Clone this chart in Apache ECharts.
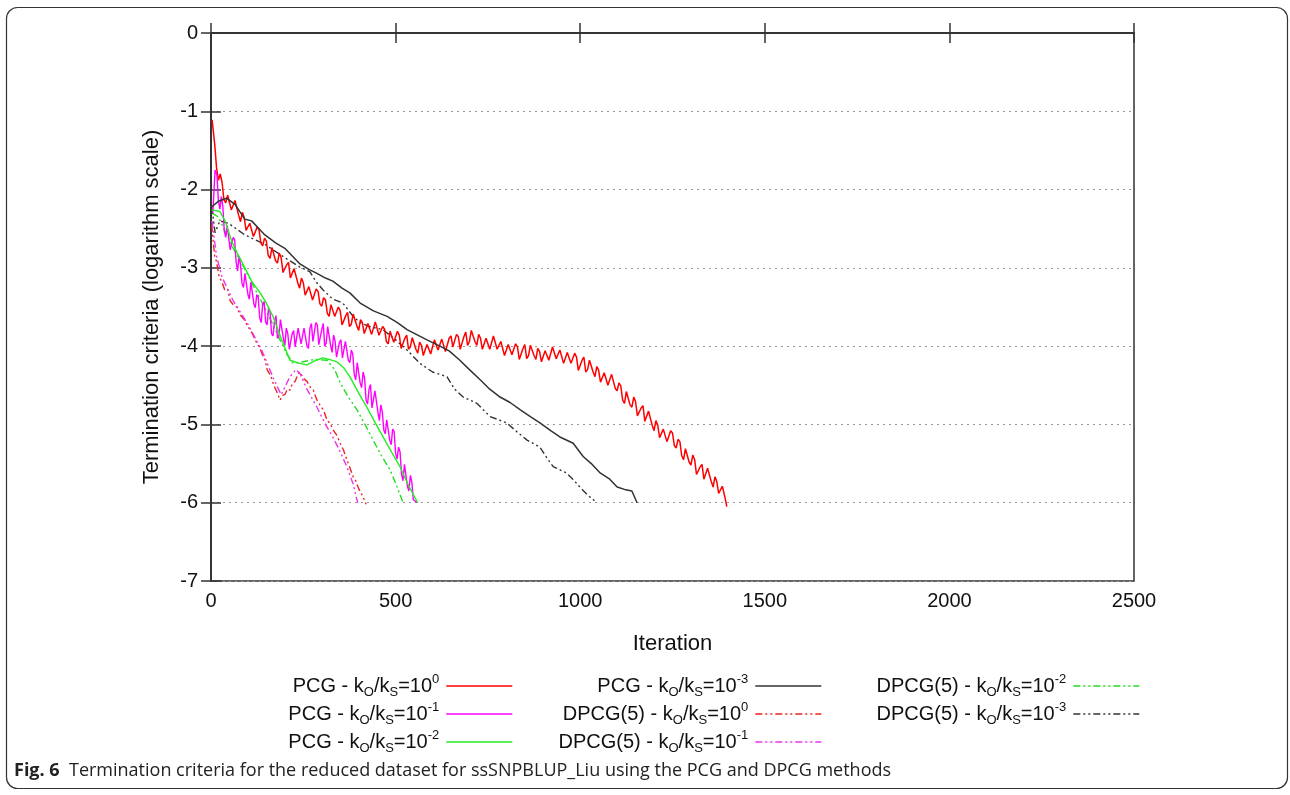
<!DOCTYPE html>
<html>
<head>
<meta charset="utf-8">
<script src="https://cdn.jsdelivr.net/npm/echarts@6/dist/echarts.min.js"></script>
<style>
html,body{margin:0;padding:0;background:#fff;}
#chart{width:1290px;height:795px;}
</style>
</head>
<body>
<div id="chart"></div>
<script>
// ---- data (iteration, log10 termination criterion) ----
const seriesNames = [
  'PCG 1e0', 'PCG 1e-1', 'PCG 1e-2', 'PCG 1e-3',
  'DPCG 1e0', 'DPCG 1e-1', 'DPCG 1e-2', 'DPCG 1e-3'
];
const legendLabels = [
  'PCG - k{sub|O}/k{sub|S}=10{sup|0}',
  'PCG - k{sub|O}/k{sub|S}=10{sup|-1}',
  'PCG - k{sub|O}/k{sub|S}=10{sup|-2}',
  'PCG - k{sub|O}/k{sub|S}=10{sup|-3}',
  'DPCG(5) - k{sub|O}/k{sub|S}=10{sup|0}',
  'DPCG(5) - k{sub|O}/k{sub|S}=10{sup|-1}',
  'DPCG(5) - k{sub|O}/k{sub|S}=10{sup|-2}',
  'DPCG(5) - k{sub|O}/k{sub|S}=10{sup|-3}'
];
const xTicks = [0, 500, 1000, 1500, 2000, 2500];
const yTicks = [-7, -6, -5, -4, -3, -2, -1, 0];

const pcg0 = [[3,-1.11],[10,-1.42],[15,-1.72],[20,-1.88],[25,-1.80],[30,-1.91],[35,-2.13],[40,-2.17],[45,-2.07],[50,-2.05],
[55,-2.26],[60,-2.25],[65,-2.14],[70,-2.16],[75,-2.33],[80,-2.41],[85,-2.29],[90,-2.36],[95,-2.52],[100,-2.54],
[105,-2.43],[110,-2.43],[115,-2.60],[120,-2.62],[125,-2.48],[130,-2.51],[135,-2.68],[140,-2.72],[145,-2.62],[150,-2.66],
[155,-2.84],[160,-2.88],[165,-2.74],[170,-2.74],[175,-2.91],[180,-2.94],[185,-2.81],[190,-2.87],[195,-3.06],[200,-3.07],
[205,-2.96],[210,-2.93],[215,-3.13],[220,-3.12],[225,-3.01],[230,-3.02],[235,-3.19],[240,-3.26],[245,-3.13],[250,-3.19],
[255,-3.35],[260,-3.36],[265,-3.24],[270,-3.24],[275,-3.41],[280,-3.42],[285,-3.27],[290,-3.30],[295,-3.46],[300,-3.49],
[305,-3.38],[310,-3.41],[315,-3.58],[320,-3.62],[325,-3.47],[330,-3.46],[335,-3.62],[340,-3.64],[345,-3.50],[350,-3.55],
[355,-3.73],[360,-3.73],[365,-3.61],[370,-3.57],[375,-3.75],[380,-3.72],[385,-3.59],[390,-3.59],[395,-3.74],[400,-3.80],
[405,-3.66],[410,-3.70],[415,-3.84],[420,-3.84],[425,-3.71],[430,-3.70],[435,-3.85],[440,-3.85],[445,-3.69],[450,-3.71],
[455,-3.86],[460,-3.87],[465,-3.75],[470,-3.78],[475,-3.94],[480,-3.97],[485,-3.81],[490,-3.80],[495,-3.95],[500,-3.96],
[505,-3.81],[510,-3.86],[515,-4.03],[520,-4.03],[525,-3.90],[530,-3.86],[535,-4.04],[540,-4.01],[545,-3.89],[550,-3.89],
[555,-4.04],[560,-4.09],[565,-3.95],[570,-3.99],[575,-4.12],[580,-4.11],[585,-3.98],[590,-3.96],[595,-4.10],[600,-4.09],
[605,-3.92],[610,-3.92],[615,-4.05],[620,-4.05],[625,-3.91],[630,-3.92],[635,-4.07],[640,-4.08],[645,-3.90],[650,-3.87],
[655,-4.01],[660,-4.01],[665,-3.85],[670,-3.88],[675,-4.04],[680,-4.02],[685,-3.88],[690,-3.82],[695,-3.99],[700,-3.94],
[705,-3.80],[710,-3.79],[715,-3.94],[720,-3.99],[725,-3.85],[730,-3.90],[735,-4.04],[740,-4.03],[745,-3.90],[750,-3.89],
[755,-4.04],[760,-4.03],[765,-3.87],[770,-3.89],[775,-4.04],[780,-4.06],[785,-3.94],[790,-3.96],[795,-4.12],[800,-4.14],
[805,-3.98],[810,-3.96],[815,-4.11],[820,-4.12],[825,-3.97],[830,-4.01],[835,-4.17],[840,-4.16],[845,-4.03],[850,-3.98],
[855,-4.16],[860,-4.12],[865,-3.99],[870,-3.98],[875,-4.12],[880,-4.17],[885,-4.03],[890,-4.07],[895,-4.20],[900,-4.19],
[905,-4.06],[910,-4.04],[915,-4.18],[920,-4.17],[925,-4.01],[930,-4.02],[935,-4.16],[940,-4.17],[945,-4.05],[950,-4.07],
[955,-4.22],[960,-4.24],[965,-4.08],[970,-4.07],[975,-4.22],[980,-4.24],[985,-4.09],[990,-4.14],[995,-4.31],[1000,-4.30],
[1005,-4.18],[1010,-4.14],[1015,-4.33],[1020,-4.30],[1025,-4.18],[1030,-4.18],[1035,-4.33],[1040,-4.39],[1045,-4.26],[1050,-4.31],
[1055,-4.46],[1060,-4.46],[1065,-4.34],[1070,-4.34],[1075,-4.50],[1080,-4.51],[1085,-4.36],[1090,-4.38],[1095,-4.54],[1100,-4.57],
[1105,-4.47],[1110,-4.51],[1115,-4.69],[1120,-4.73],[1125,-4.58],[1130,-4.58],[1135,-4.75],[1140,-4.78],[1145,-4.65],[1150,-4.71],
[1155,-4.89],[1160,-4.90],[1165,-4.79],[1170,-4.76],[1175,-4.96],[1180,-4.94],[1185,-4.83],[1190,-4.84],[1195,-5.01],[1200,-5.08],
[1205,-4.95],[1210,-5.01],[1215,-5.17],[1220,-5.18],[1225,-5.06],[1230,-5.06],[1235,-5.22],[1240,-5.23],[1245,-5.08],[1250,-5.11],
[1255,-5.27],[1260,-5.30],[1265,-5.19],[1270,-5.22],[1275,-5.40],[1280,-5.45],[1285,-5.31],[1290,-5.31],[1295,-5.48],[1300,-5.52],
[1305,-5.39],[1310,-5.45],[1315,-5.64],[1320,-5.66],[1325,-5.54],[1330,-5.51],[1335,-5.70],[1340,-5.68],[1345,-5.56],[1350,-5.57],
[1355,-5.73],[1360,-5.80],[1365,-5.67],[1370,-5.73],[1375,-5.88],[1380,-5.89],[1385,-5.79],[1390,-5.81],[1393,-5.95],[1397,-6.05]];

const pcg1 = [[5,-2.30],[11,-1.75],[16,-1.81],[20,-2.14],[24,-2.25],[28,-2.09],[32,-2.21],[36,-2.53],[40,-2.61],[44,-2.46],
[48,-2.44],[52,-2.77],[56,-2.78],[60,-2.61],[64,-2.64],[68,-2.92],[72,-3.04],[76,-2.85],[80,-2.96],[84,-3.20],
[88,-3.25],[92,-3.07],[96,-3.08],[100,-3.34],[104,-3.40],[108,-3.18],[112,-3.19],[116,-3.46],[120,-3.51],[124,-3.34],
[128,-3.38],[132,-3.64],[136,-3.70],[140,-3.46],[144,-3.43],[148,-3.69],[152,-3.73],[156,-3.51],[160,-3.57],[164,-3.84],
[168,-3.87],[172,-3.68],[176,-3.61],[180,-3.90],[184,-3.87],[188,-3.66],[192,-3.65],[196,-3.90],[200,-3.99],[204,-3.77],
[208,-3.84],[212,-4.04],[216,-4.06],[220,-3.84],[224,-3.80],[228,-4.01],[232,-4.02],[236,-3.77],[240,-3.75],[244,-3.97],
[248,-3.98],[252,-3.77],[256,-3.78],[260,-4.00],[264,-4.03],[268,-3.77],[272,-3.71],[276,-3.94],[280,-3.95],[284,-3.70],
[288,-3.73],[292,-3.98],[296,-4.00],[300,-3.79],[304,-3.71],[308,-4.00],[312,-3.96],[316,-3.75],[320,-3.74],[324,-3.99],
[328,-4.08],[332,-3.86],[336,-3.93],[340,-4.14],[344,-4.16],[348,-3.95],[352,-3.92],[356,-4.15],[360,-4.17],[364,-3.94],
[368,-3.93],[372,-4.18],[376,-4.21],[380,-4.05],[384,-4.10],[388,-4.36],[392,-4.43],[396,-4.21],[400,-4.19],[404,-4.47],
[408,-4.53],[412,-4.33],[416,-4.41],[420,-4.69],[424,-4.74],[428,-4.55],[432,-4.49],[436,-4.79],[440,-4.77],[444,-4.57],
[448,-4.58],[452,-4.84],[456,-4.95],[460,-4.75],[464,-4.84],[468,-5.07],[472,-5.12],[476,-4.94],[480,-4.94],[484,-5.20],
[488,-5.26],[492,-5.06],[496,-5.09],[500,-5.37],[504,-5.44],[508,-5.29],[512,-5.35],[516,-5.63],[520,-5.72],[524,-5.51],
[528,-5.50],[532,-5.79],[536,-5.85],[540,-5.65],[544,-5.74],[548,-5.96],[552,-5.98],[558,-6.00]];

const pcg2 = [[2,-2.26],[24,-2.28],[38,-2.40],[56,-2.66],[70,-2.80],[83,-2.92],[110,-3.17],[133,-3.32],[150,-3.45],[160,-3.55],
[168,-3.62],[190,-3.90],[214,-4.18],[240,-4.22],[260,-4.24],[285,-4.18],[303,-4.15],[320,-4.17],[341,-4.20],[360,-4.28],
[376,-4.39],[400,-4.60],[422,-4.78],[445,-4.98],[466,-5.16],[490,-5.36],[512,-5.54],[535,-5.78],[560,-6.00]];

const pcg3 = [[2,-2.22],[20,-2.15],[42,-2.11],[65,-2.19],[92,-2.38],[110,-2.40],[130,-2.50],[146,-2.58],[175,-2.68],[200,-2.75],
[241,-2.95],[265,-3.02],[287,-3.07],[310,-3.13],[330,-3.17],[355,-3.26],[376,-3.32],[404,-3.45],[440,-3.55],[477,-3.62],
[505,-3.70],[531,-3.79],[560,-3.86],[585,-3.92],[620,-4.00],[645,-4.06],[674,-4.18],[700,-4.30],[729,-4.43],[755,-4.55],
[783,-4.65],[810,-4.72],[837,-4.81],[865,-4.90],[891,-4.98],[920,-5.08],[945,-5.16],[981,-5.24],[1008,-5.41],[1030,-5.50],
[1054,-5.62],[1080,-5.70],[1100,-5.80],[1120,-5.83],[1140,-5.85],[1154,-6.00]];

const dpcg0 = [[2,-2.45],[6,-2.66],[10,-2.85],[15,-2.92],[22,-3.12],[29,-3.17],[37,-3.28],[45,-3.27],[52,-3.42],[60,-3.47],
[70,-3.50],[79,-3.60],[90,-3.66],[100,-3.75],[112,-3.84],[124,-3.96],[132,-4.02],[140,-4.12],[146,-4.17],[152,-4.30],
[162,-4.38],[170,-4.50],[178,-4.58],[187,-4.69],[194,-4.63],[200,-4.62],[207,-4.55],[214,-4.56],[221,-4.47],[228,-4.45],
[235,-4.36],[241,-4.33],[250,-4.41],[260,-4.45],[268,-4.52],[277,-4.56],[286,-4.68],[295,-4.75],[305,-4.82],[314,-4.94],
[323,-4.99],[332,-5.08],[341,-5.14],[350,-5.24],[359,-5.33],[368,-5.45],[376,-5.55],[385,-5.67],[392,-5.72],[400,-5.82],
[409,-5.90],[417,-5.98],[420,-6.02]];

const dpcg1 = [[3,-2.40],[8,-2.60],[15,-2.85],[30,-3.12],[60,-3.42],[100,-3.72],[140,-4.08],[170,-4.42],[190,-4.62],[214,-4.39],
[230,-4.30],[241,-4.35],[260,-4.55],[287,-4.78],[310,-5.00],[330,-5.16],[350,-5.35],[368,-5.54],[385,-5.76],[395,-5.96],
[398,-6.00]];

const dpcg2 = [[3,-2.30],[20,-2.35],[40,-2.55],[60,-2.75],[90,-3.00],[120,-3.28],[150,-3.55],[180,-3.85],[205,-4.10],[223,-4.22],
[250,-4.20],[280,-4.17],[314,-4.18],[335,-4.30],[350,-4.47],[372,-4.65],[395,-4.81],[417,-5.00],[439,-5.20],[462,-5.40],
[485,-5.58],[500,-5.75],[517,-5.96],[520,-6.00]];

const dpcg3 = [[2,-2.22],[11,-2.55],[24,-2.40],[47,-2.43],[92,-2.58],[146,-2.70],[200,-2.87],[241,-2.99],[268,-3.05],[285,-3.18],
[303,-3.28],[330,-3.40],[357,-3.45],[385,-3.62],[404,-3.70],[430,-3.75],[466,-3.79],[500,-3.92],[531,-4.05],[566,-4.22],
[600,-4.33],[639,-4.39],[660,-4.55],[683,-4.65],[720,-4.73],[756,-4.90],[801,-4.98],[830,-5.10],[856,-5.20],[891,-5.29],
[910,-5.43],[927,-5.54],[963,-5.62],[980,-5.70],[999,-5.80],[1020,-5.90],[1035,-5.96],[1045,-6.00]];

const seriesData = [pcg0, pcg1, pcg2, pcg3, dpcg0, dpcg1, dpcg2, dpcg3];
const seriesColors = ['#ff0000', '#ff00ff', '#22ee22', '#333333', '#ee2222', '#ee33ee', '#22dd22', '#333333'];
const dashDot = [7, 3, 2, 3, 2, 3];
const seriesDash = ['solid', 'solid', 'solid', 'solid', dashDot, dashDot, dashDot, dashDot];
const seriesWidth = [1.5, 1.4, 1.4, 1.5, 1.4, 1.4, 1.4, 1.4];

// legend layout: [rightOffset, top]
const legendPos = [
  [777, 673], [777, 701], [777, 729],
  [468, 673], [468, 701], [468, 729],
  [150, 673], [150, 701]
];

const FONT = "'Liberation Sans', Arial, Helvetica, sans-serif";
const CAPFONT = "'Open Sans', sans-serif";

const chart = echarts.init(document.getElementById('chart'), null, {renderer: 'canvas'});

const series = seriesNames.map((n, i) => ({
  name: n,
  type: 'line',
  data: seriesData[i],
  showSymbol: false,
  symbol: 'none',
  smooth: false,
  animation: false,
  z: i < 4 ? 3 : 2,
  lineStyle: {color: seriesColors[i], width: seriesWidth[i], type: seriesDash[i]},
  itemStyle: {color: seriesColors[i]}
}));

const legends = seriesNames.map((n, i) => ({
  data: [n],
  right: legendPos[i][0],
  top: legendPos[i][1],
  align: 'right',
  orient: 'horizontal',
  itemWidth: 66,
  itemHeight: 14,
  itemGap: 0,
  selectedMode: false,
  padding: 0,
  itemStyle: {opacity: 0},
  lineStyle: {width: 1.4},
  formatter: () => legendLabels[i],
  textStyle: {
    fontFamily: FONT, fontSize: 20, color: '#111', lineHeight: 26, padding: [0, 2, 0, 0],
    rich: {
      sup: {fontFamily: FONT, fontSize: 13, color: '#111', verticalAlign: 'top', lineHeight: 16},
      sub: {fontFamily: FONT, fontSize: 13, color: '#111', verticalAlign: 'bottom', lineHeight: 14}
    }
  }
}));

const option = {
  backgroundColor: '#fff',
  animation: false,
  title: {
    text: '{b|Fig. 6}  Termination criteria for the reduced dataset for ssSNPBLUP_Liu using the PCG and DPCG methods',
    left: 9, top: 757,
    textStyle: {
      fontFamily: CAPFONT, fontSize: 18, fontWeight: 'normal', color: '#222',
      rich: {b: {fontFamily: CAPFONT, fontSize: 18, fontWeight: 'bold', color: '#222'}}
    }
  },
  grid: {left: 211, right: 156, top: 33, bottom: 214, show: true, borderColor: '#333', borderWidth: 1.5, backgroundColor: 'transparent'},
  legend: legends,
  xAxis: [{
    type: 'value', min: xTicks[0], max: xTicks[xTicks.length - 1], interval: 500,
    position: 'bottom',
    name: 'Iteration', nameLocation: 'middle', nameGap: 52,
    nameTextStyle: {fontFamily: FONT, fontSize: 22, color: '#111'},
    axisLine: {show: true, lineStyle: {color: '#333', width: 1.5}},
    axisTick: {show: true, inside: true, length: 10, lineStyle: {color: '#333', width: 1.5}},
    axisLabel: {fontFamily: FONT, fontSize: 20, color: '#111', margin: 10, formatter: v => String(v)},
    splitLine: {show: false}
  }, {
    type: 'value', min: xTicks[0], max: xTicks[xTicks.length - 1], interval: 500,
    position: 'top',
    axisLine: {show: true, lineStyle: {color: '#333', width: 1.5}},
    axisTick: {show: true, inside: true, length: 10, lineStyle: {color: '#333', width: 1.5}},
    axisLabel: {show: false},
    splitLine: {show: false}
  }],
  yAxis: [{
    type: 'value', min: yTicks[0], max: yTicks[yTicks.length - 1], interval: 1,
    position: 'left',
    name: 'Termination criteria (logarithm scale)', nameLocation: 'middle', nameGap: 48,
    nameTextStyle: {fontFamily: FONT, fontSize: 22, color: '#111'},
    axisLine: {show: true, lineStyle: {color: '#333', width: 1.5}},
    axisTick: {show: true, inside: true, length: 10, lineStyle: {color: '#333', width: 1.5}},
    axisLabel: {fontFamily: FONT, fontSize: 20, color: '#111', margin: 13, formatter: v => String(v)},
    splitLine: {show: true, lineStyle: {color: '#999', type: [2, 4], width: 1}}
  }, {
    type: 'value', min: yTicks[0], max: yTicks[yTicks.length - 1], interval: 1,
    position: 'right',
    axisLine: {show: true, lineStyle: {color: '#333', width: 1.5}},
    axisTick: {show: true, inside: true, length: 10, lineStyle: {color: '#333', width: 1.5}},
    axisLabel: {show: false},
    splitLine: {show: false}
  }],
  graphic: [{
    type: 'rect', silent: true, z: -1,
    shape: {x: 6.5, y: 7.5, width: 1281, height: 781, r: 11},
    style: {fill: 'none', stroke: '#333', lineWidth: 1.2}
  }],
  series: series
};
chart.setOption(option);
</script>
</body>
</html>
